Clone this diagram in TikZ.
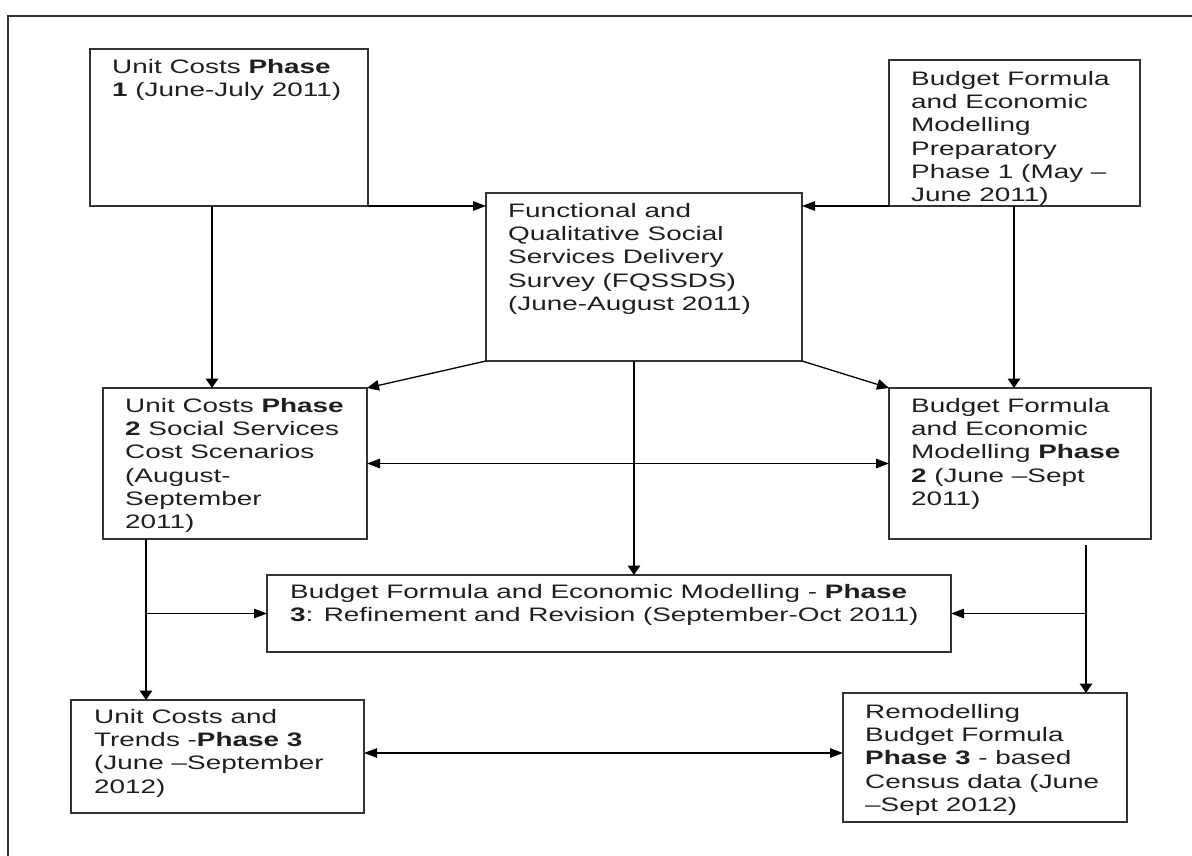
\documentclass[tikz,border=0pt]{standalone}
\usepackage{fontspec}
\setmainfont{Liberation Sans}[FakeStretch=1.43]
\usetikzlibrary{arrows.meta,calc}
\begin{document}
\begin{tikzpicture}[x=1pt,y=-1pt,
  pbox/.style={draw=black!80, line width=1.1pt, rectangle, inner sep=0pt, outer sep=0pt, anchor=north west},
  txt/.style={anchor=north west, inner sep=0pt, align=left,
    font=\fontsize{19.5}{23.3}\selectfont, text=black!88},
  vtip/.tip={Triangle[length=9.5pt,width=12.5pt]},
  htip/.tip={Triangle[length=13pt,width=9.5pt]},
  dtip/.tip={Triangle[length=12pt,width=10.5pt]},
  varr/.style={line width=1.6pt, -vtip},
  harr/.style={line width=1.2pt, -htip},
  darr/.style={line width=1.3pt, -dtip},
  harrs/.style={line width=1.2pt, htip-htip},
]
\useasboundingbox (0,0) rectangle (1192,856);

% page frame (only its top and left edges fall on the page)
\draw[line width=1.1pt, black!80] (8,856) -- (8,16) -- (1192,16);

% boxes
\node[pbox, minimum width=278pt, minimum height=157pt] (A) at (90,49) {};
\node[pbox, minimum width=316pt, minimum height=168pt] (F) at (486,193) {};
\node[pbox, minimum width=251pt, minimum height=146pt] (B) at (889,60) {};
\node[pbox, minimum width=264pt, minimum height=151pt] (C) at (103,388) {};
\node[pbox, minimum width=262pt, minimum height=151pt] (D) at (889,388) {};
\node[pbox, minimum width=684pt, minimum height=77pt] (E) at (267,575) {};
\node[pbox, minimum width=293pt, minimum height=113pt] (G) at (71,700) {};
\node[pbox, minimum width=284pt, minimum height=129pt] (H) at (843,693) {};

% box texts (offset = first baseline minus cap height)
\node[txt] (tA) at ($(A.north west)+(22,10)$)
  {Unit Costs \textbf{Phase}\\\textbf{1} (June-July 2011)};
\node[txt] (tF) at ($(F.north west)+(22,10)$)
  {Functional and\\Qualitative Social\\Services Delivery\\Survey (FQSSDS)\\(June-August 2011)};
\node[txt] (tB) at ($(B.north west)+(22,11)$)
  {Budget Formula\\and Economic\\Modelling\\Preparatory\\Phase 1 (May –\\June 2011)};
\node[txt] (tC) at ($(C.north west)+(22,10)$)
  {Unit Costs \textbf{Phase}\\\textbf{2} Social Services\\Cost Scenarios\\(August-\\September\\2011)};
\node[txt] (tD) at ($(D.north west)+(22,10)$)
  {Budget Formula\\and Economic\\Modelling \textbf{Phase}\\\textbf{2} (June –Sept\\2011)};
\node[txt] (tE) at ($(E.north west)+(23,9)$)
  {Budget Formula and Economic Modelling - \textbf{Phase}\\\textbf{3}: Refinement and Revision (September-Oct 2011)};
\node[txt] (tG) at ($(G.north west)+(23,9)$)
  {Unit Costs and\\Trends -\textbf{Phase 3}\\(June –September\\2012)};
\node[txt] (tH) at ($(H.north west)+(22,11)$)
  {Remodelling\\Budget Formula\\\textbf{Phase 3} - based\\Census data (June\\–Sept 2012)};

% connector anchor points
\coordinate (a1) at (212,206);
\coordinate (b1) at (1014,206);
\coordinate (f1) at (634,361);
\coordinate (c1) at (146,539);
\coordinate (d1) at (1086,545);
\coordinate (gh) at (0,753);

% connectors
\draw[harr] (A.south east) -- (A.south east -| F.west);
\draw[harr] (B.south west) -- (B.south west -| F.east);
\draw[varr] (a1) -- (a1 |- C.north);
\draw[varr] (b1) -- (b1 |- D.north);
\draw[darr] (F.south west) -- (C.north east);
\draw[darr] (F.south east) -- (D.north west);
\draw[varr] (f1) -- (f1 |- E.north);
\draw[harrs] (C.east) -- (D.west);
\draw[varr] (c1) -- (c1 |- G.north);
\draw[harr] (c1 |- E.west) -- (E.west);
\draw[varr] (d1) -- (d1 |- H.north);
\draw[harr] (d1 |- E.east) -- (E.east);
\draw[harrs] (G.east |- gh) -- (H.west |- gh);
\end{tikzpicture}
\end{document}
